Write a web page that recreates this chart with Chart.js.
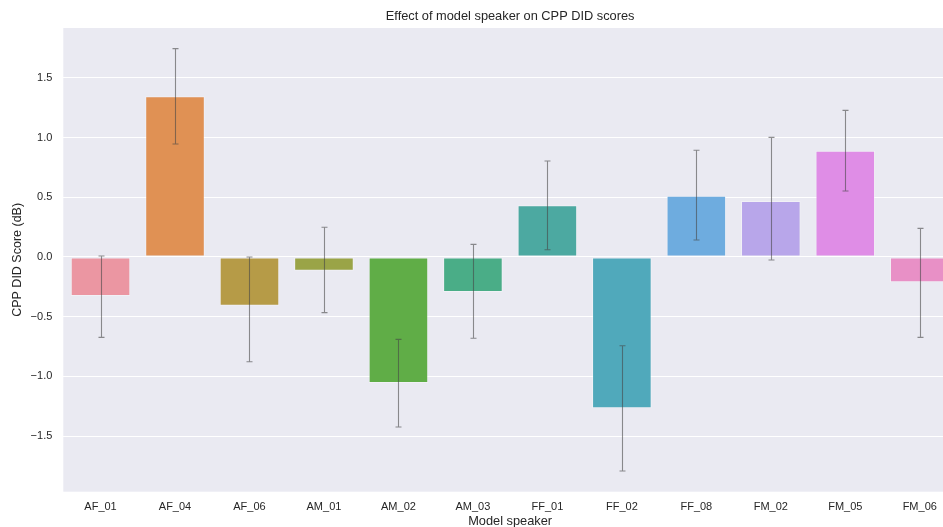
<!DOCTYPE html>
<html>
<head>
<meta charset="utf-8">
<script src="https://cdn.jsdelivr.net/npm/chart.js@4.4.1/dist/chart.umd.min.js"></script>
<style>
  html, body { margin: 0; padding: 0; background: #fff; overflow: hidden; }
  #wrap { width: 943px; height: 527px; overflow: hidden; position: relative; }
  canvas { position: absolute; left: 0; top: 0; }
</style>
</head>
<body>
<div id="wrap"><canvas id="chart" width="958" height="532"></canvas></div>
<script>
// values
const speakers = ['AF_01', 'AF_04', 'AF_06', 'AM_01', 'AM_02', 'AM_03', 'FF_01', 'FF_02', 'FF_08', 'FM_02', 'FM_05', 'FM_06'];
const means   = [-0.327, 1.346, -0.408, -0.115, -1.055, -0.293, 0.433, -1.267, 0.513, 0.469, 0.890, -0.212];
const errLow  = [-0.673, 0.946, -0.877, -0.466, -1.424, -0.681, 0.061, -1.792, 0.142, -0.025, 0.553, -0.673];
const errHigh = [0.008, 1.745, 0.000, 0.249, -0.690, 0.106, 0.804, -0.743, 0.894, 1.002, 1.228, 0.240];
const yTicks  = [-1.5, -1.0, -0.5, 0.0, 0.5, 1.0, 1.5];
const barColors = ['#eb96a2', '#e09154', '#b69b47', '#9aa447', '#60ad47', '#4aad87',
                   '#4ca9a1', '#50a9bb', '#6eacdf', '#b8a6ea', '#df8de6', '#e890c6'];
const chartTitle = 'Effect of model speaker on CPP DID scores';

const FONT = "'Liberation Sans', Arial, sans-serif";

// grey plot background + title centred over the plot area (matplotlib style)
const bgPlugin = {
  id: 'plotBg',
  beforeDraw(chart) {
    const { ctx, chartArea: a } = chart;
    ctx.save();
    ctx.fillStyle = '#eaeaf2';
    ctx.fillRect(a.left, a.top, a.right - a.left, a.bottom - a.top);
    ctx.fillStyle = '#262626';
    ctx.font = '12.8px ' + FONT;
    ctx.textAlign = 'center';
    ctx.textBaseline = 'middle';
    ctx.fillText(chartTitle, (a.left + a.right) / 2, 16.5);
    ctx.restore();
  }
};

// confidence interval whiskers
const errPlugin = {
  id: 'errBars',
  afterDatasetsDraw(chart) {
    const ctx = chart.ctx;
    const y = chart.scales.y;
    const meta = chart.getDatasetMeta(0);
    ctx.save();
    ctx.strokeStyle = 'rgba(70,70,70,0.6)';
    ctx.lineWidth = 1.1;
    meta.data.forEach((bar, i) => {
      const x = Math.round(bar.x) + 0.5;
      const y1 = y.getPixelForValue(errLow[i]);
      const y2 = y.getPixelForValue(errHigh[i]);
      ctx.beginPath();
      ctx.moveTo(x, y1); ctx.lineTo(x, y2);
      ctx.moveTo(x - 3, y1); ctx.lineTo(x + 3, y1);
      ctx.moveTo(x - 3, y2); ctx.lineTo(x + 3, y2);
      ctx.stroke();
    });
    ctx.restore();
  }
};

new Chart(document.getElementById('chart'), {
  type: 'bar',
  data: {
    labels: speakers,
    datasets: [{
      data: means,
      backgroundColor: barColors,
      borderColor: 'rgba(255,255,255,0.35)',
      borderWidth: 1,
      borderSkipped: false,
      categoryPercentage: 0.8,
      barPercentage: 1.0
    }]
  },
  options: {
    responsive: false,
    animation: false,
    events: [],
    layout: { padding: { left: 0, right: 1, top: 28, bottom: 0 } },
    plugins: {
      legend: { display: false },
      tooltip: { enabled: false },
      title: { display: false }
    },
    scales: {
      x: {
        offset: true,
        grid: { display: false, drawTicks: false },
        border: { display: false },
        ticks: { color: '#262626', font: { family: FONT, size: 11 }, padding: 9, maxRotation: 0 },
        title: {
          display: true, text: 'Model speaker', color: '#262626',
          font: { family: FONT, size: 12.8, lineHeight: 1.2 },
          padding: { top: 0, bottom: 3 }
        },
        afterFit(s) { s.height = 40.3; }
      },
      y: {
        min: -1.966,
        max: 1.918,
        afterBuildTicks(s) { s.ticks = yTicks.map(v => ({ value: v })); },
        grid: { color: '#ffffff', lineWidth: 1, drawTicks: false },
        border: { display: false },
        ticks: {
          color: '#262626', font: { family: FONT, size: 11 }, padding: 11,
          callback: v => v.toFixed(1).replace('-', '\u2212')
        },
        title: {
          display: true, text: 'CPP DID Score (dB)', color: '#262626',
          font: { family: FONT, size: 12.5, lineHeight: 1.2 },
          padding: { top: 10, bottom: 0 }
        },
        afterFit(s) { s.width = 63.3; }
      }
    }
  },
  plugins: [bgPlugin, errPlugin]
});
</script>
</body>
</html>
